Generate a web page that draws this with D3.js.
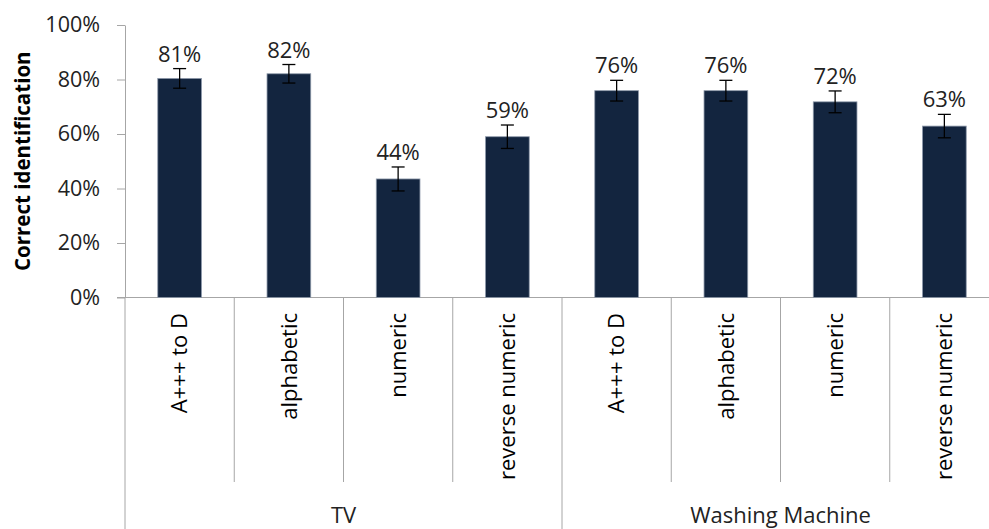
<!DOCTYPE html>
<html>
<head>
<meta charset="utf-8">
<script src="https://cdn.jsdelivr.net/npm/d3@7"></script>
<style>
  body { margin: 0; background: #fff; }
  svg { display: block; font-family: "Open Sans", sans-serif; }
</style>
</head>
<body>
<svg id="chart"></svg>
<script>
// data
const groups = ['TV', 'Washing Machine'];
const categories = ['A+++ to D', 'alphabetic', 'numeric', 'reverse numeric',
                    'A+++ to D', 'alphabetic', 'numeric', 'reverse numeric'];
const values = [0.804, 0.821, 0.435, 0.590, 0.759, 0.759, 0.718, 0.629];
const errors = [0.036, 0.034, 0.044, 0.043, 0.038, 0.038, 0.040, 0.043];
const valueLabels = ['81%', '82%', '44%', '59%', '76%', '76%', '72%', '63%'];
const yTicks = [0, 0.2, 0.4, 0.6, 0.8, 1];

// dimensions
const width = 989;
const height = 529;
const plotLeft = 125;
const plotRight = 999;
const plotTop = 25;
const plotBottom = 297.5;

const svg = d3.select('#chart')
  .attr('width', width)
  .attr('height', height);

const idx = categories.map((d, i) => i);

// scales
const xScale = d3.scaleBand()
  .domain(idx)
  .range([plotLeft, plotRight])
  .paddingInner(0.6)
  .paddingOuter(0.3);

const slotScale = d3.scaleBand()
  .domain(idx)
  .range([plotLeft, plotRight]);

const yScale = d3.scaleLinear()
  .domain([0, 1])
  .range([plotBottom, plotTop]);

// y axis
const yAxis = d3.axisLeft(yScale)
  .tickValues(yTicks)
  .tickFormat(d3.format('.0%'))
  .tickSize(8)
  .tickSizeOuter(0)
  .tickPadding(17);

const yG = svg.append('g')
  .attr('id', 'y-axis')
  .attr('transform', `translate(${plotLeft}, 0)`)
  .call(yAxis);
yG.select('.domain').attr('stroke', '#a6a6a6');
yG.selectAll('.tick line').attr('stroke', '#a6a6a6');
yG.selectAll('.tick text')
  .attr('fill', '#222')
  .style('font-size', '21.5px')
  .style('font-family', '"Open Sans", sans-serif');

// y-axis header
svg.append('text')
  .attr('transform', `translate(30, ${(plotTop + plotBottom) / 2}) rotate(-90)`)
  .attr('text-anchor', 'middle')
  .style('font-size', '20.5px')
  .style('font-weight', 'bold')
  .attr('fill', '#000')
  .text('Correct identification');

// x axis line
svg.append('line')
  .attr('x1', plotLeft - 8)
  .attr('x2', width)
  .attr('y1', plotBottom)
  .attr('y2', plotBottom)
  .attr('stroke', '#a6a6a6');

// category dividers
const bounds = idx.map((i) => slotScale(i)).concat([plotRight]);
svg.selectAll('.divider')
  .data(bounds)
  .enter()
  .append('line')
  .attr('class', 'divider')
  .attr('x1', (d) => d)
  .attr('x2', (d) => d)
  .attr('y1', plotBottom)
  .attr('y2', (d, i) => (i % 4 === 0 ? height : 482))
  .attr('stroke', '#a6a6a6');

// bars
svg.selectAll('.bar')
  .data(values)
  .enter()
  .append('rect')
  .attr('class', 'bar')
  .attr('x', (d, i) => xScale(i))
  .attr('width', xScale.bandwidth())
  .attr('y', (d) => yScale(d))
  .attr('height', (d) => plotBottom - yScale(d))
  .attr('fill', '#13253f')
  .attr('stroke', '#8e99aa')
  .attr('stroke-width', 0.8);

// error bars
const cx = (i) => xScale(i) + xScale.bandwidth() / 2;
const errG = svg.append('g').attr('stroke', '#000').attr('stroke-width', 1.3);
values.forEach((v, i) => {
  const y1 = yScale(v + errors[i]);
  const y2 = yScale(v - errors[i]);
  errG.append('line').attr('x1', cx(i)).attr('x2', cx(i)).attr('y1', y1).attr('y2', y2);
  errG.append('line').attr('x1', cx(i) - 6.5).attr('x2', cx(i) + 6.5).attr('y1', y1).attr('y2', y1);
  errG.append('line').attr('x1', cx(i) - 6.5).attr('x2', cx(i) + 6.5).attr('y1', y2).attr('y2', y2);
});

// value labels
svg.selectAll('.value-label')
  .data(values)
  .enter()
  .append('text')
  .attr('class', 'value-label')
  .attr('x', (d, i) => cx(i))
  .attr('y', (d, i) => yScale(d + errors[i]) - 7)
  .attr('text-anchor', 'middle')
  .attr('fill', '#222')
  .style('font-size', '22px')
  .text((d, i) => valueLabels[i]);

// category labels
svg.selectAll('.cat-label')
  .data(categories)
  .enter()
  .append('text')
  .attr('class', 'cat-label')
  .attr('transform', (d, i) => `translate(${slotScale(i) + slotScale.bandwidth() / 2}, 313) rotate(-90)`)
  .attr('text-anchor', 'end')
  .attr('dy', '0.35em')
  .attr('fill', '#000')
  .style('font-size', '22px')
  .text((d) => d);

// group labels
svg.selectAll('.group-label')
  .data(groups)
  .enter()
  .append('text')
  .attr('class', 'group-label')
  .attr('x', (d, g) => (slotScale(g * 4) + (g * 4 + 4 < 8 ? slotScale(g * 4 + 4) : plotRight)) / 2)
  .attr('y', 523)
  .attr('text-anchor', 'middle')
  .attr('fill', '#222')
  .style('font-size', '22px')
  .text((d) => d);
</script>
</body>
</html>
